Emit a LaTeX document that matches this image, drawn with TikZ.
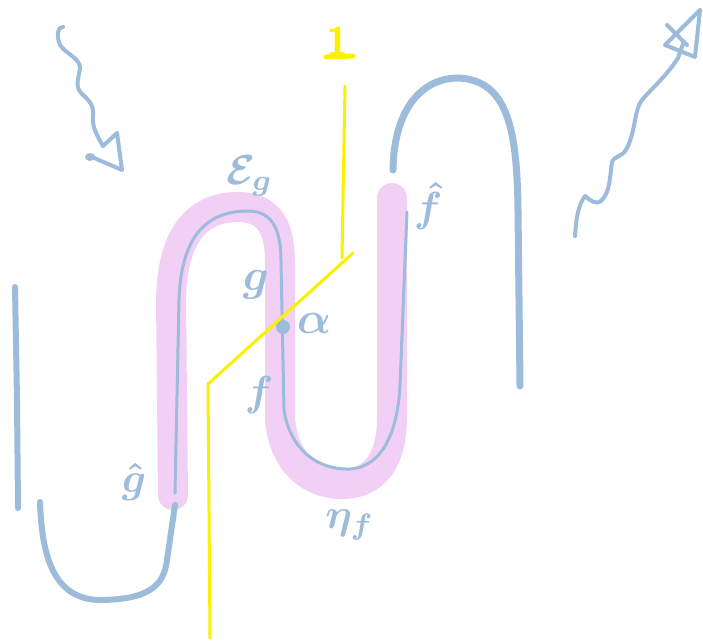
\documentclass[tikz,border=0pt]{standalone}
\usepackage{fontspec}
\usepackage{graphicx}
\usetikzlibrary{arrows.meta}
\definecolor{sblue}{RGB}{157,187,218}
\definecolor{spink}{RGB}{242,208,245}
\definecolor{syellow}{RGB}{250,240,0}
\tikzset{
  wire/.style={draw=sblue, line width=6pt, line cap=round, line join=round},
  thinwire/.style={draw=sblue, line width=3pt, line cap=round, line join=round},
  band/.style={draw=spink, line width=30pt, line cap=round, line join=round},
  yline/.style={draw=syellow, line width=3pt, line cap=round, line join=round},
  lab/.style={text=sblue, inner sep=0pt, font=\boldmath},
  wavy/.style={draw=sblue, line width=4pt, line cap=round, line join=round}
}
\begin{document}
\begin{tikzpicture}[x=1pt,y=-1pt]
\useasboundingbox (0,0) rectangle (703,640);
% pink band
\draw[band] (173,495) -- (171,300) .. controls (172,232) and (200,207) .. (238,207) .. controls (272,207) and (280,232) .. (280,262) -- (280,420) .. controls (284,462) and (310,484) .. (342,484) .. controls (376,484) and (392,458) .. (392,418) -- (392,198);
% thin blue inside band
\draw[thinwire] (175,493) -- (179,300) .. controls (181,238) and (205,211) .. (248,211) .. controls (274,211) and (281,232) .. (281,262) -- (284,410) .. controls (290,450) and (318,470) .. (350,469) .. controls (384,467) and (398,428) .. (400,385) -- (407,212);
\fill[sblue] (283,327) circle (7);
% left line
\draw[wire] (15,287) -- (17,400) -- (18,508);
% left cup
\draw[wire] (40,502) .. controls (42,565) and (58,598) .. (98,600) .. controls (150,600) and (164,585) .. (167,560) -- (175,505);
% right arch
\draw[wire, line width=7pt] (393,170) .. controls (394,105) and (425,78) .. (458,78) .. controls (508,80) and (517,130) .. (518,210) -- (520,386);
% yellow line
\draw[yline] (345,86) -- (342,258);
\draw[yline] (353,253) -- (208,384) -- (210,638);
\node[text=syellow, inner sep=0pt] (one) at (337,41) {\scalebox{4}{\textsf{\bfseries 1}}};
\draw[draw=syellow, line width=5pt, line cap=round] (326,57) -- (353,56);
% labels
\node[lab] (eps) at (250,176) {\scalebox{4.2}{$\mathcal{E}_{g}$}};
\node[lab] (gl) at (256,285) {\scalebox{4.5}{$g$}};
\node[lab] (fl) at (259,395) {\scalebox{4.2}{$f$}};
\node[lab] (al) at (314,323) {\scalebox{4.5}{$\alpha$}};
\node[lab] (gh) at (134,482) {\scalebox{4.2}{$\hat{g}$}};
\node[lab] (fh) at (428,206) {\scalebox{4.2}{$\hat{f}$}};
\node[lab] (eta) at (350,525) {\scalebox{4.2}{$\eta_{f}$}};
% wavy arrow top-left
\draw[wavy] (63,27) .. controls (58,26) and (56,36) .. (60,45) .. controls (66,54) and (80,58) .. (80,68) .. controls (79,78) and (74,86) .. (82,94) .. controls (90,101) and (94,106) .. (93,116) .. controls (92,126) and (96,134) .. (103,146);
\draw[wavy] (103,146) -- (117,133) -- (122,170) -- (92,157);
\fill[sblue] (90,157) ellipse (5 and 4);
% wavy arrow top-right
\draw[wavy] (575,236) .. controls (576,220) and (578,205) .. (585,196) .. controls (590,200) and (596,206) .. (602,200) .. controls (610,192) and (610,175) .. (612,162) .. controls (615,155) and (622,158) .. (627,148) .. controls (636,130) and (634,110) .. (642,100) .. controls (650,90) and (665,78) .. (678,58) -- (683,44);
\draw[wavy] (700,10) -- (695,57) -- (665,45) -- (700,10);
\draw[wavy] (667,25) -- (687,45);
\end{tikzpicture}
\end{document}
